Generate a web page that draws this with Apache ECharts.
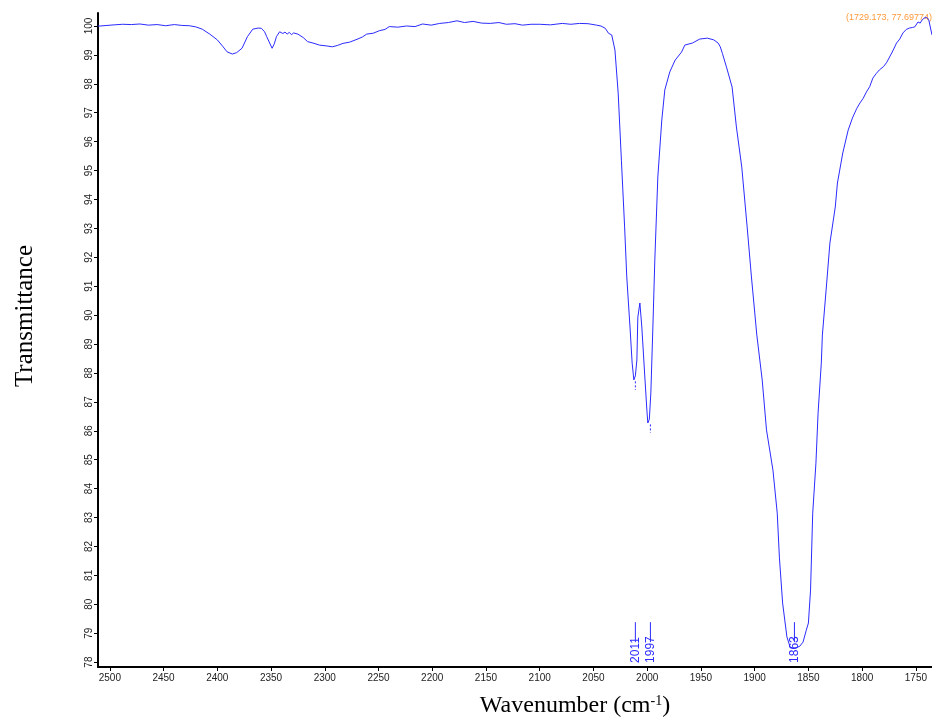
<!DOCTYPE html>
<html lang="en">
<head>
    <meta charset="UTF-8">
    <title>IR spectrum</title>
    <style>
        html, body { margin: 0; padding: 0; background: #fff; }
        #main { width: 932px; height: 722px; }
    </style>
</head>
<body>
<div id="main"></div>
<script src="https://cdn.jsdelivr.net/npm/echarts@6/dist/echarts.min.js"></script>
<script>
    // spectrum (wavenumber in cm-1, transmittance)
    var wavenumber = [
        2511, 2509, 2496, 2488, 2480, 2472, 2464, 2456, 2448, 2440, 2433, 2426, 2420, 2414,
        2407, 2400, 2395, 2391, 2386, 2382, 2377, 2372, 2367, 2362, 2359, 2356, 2354, 2349,
        2347, 2345, 2342, 2339, 2337, 2335, 2333, 2331, 2329, 2325, 2320, 2316, 2310, 2305,
        2298, 2293, 2288, 2283, 2277, 2270, 2265, 2261, 2255, 2249, 2244, 2240, 2232, 2224,
        2216, 2209, 2201, 2193, 2185, 2177, 2170, 2162, 2154, 2146, 2138, 2131, 2123, 2116,
        2108, 2100, 2090, 2079, 2071, 2063, 2055, 2047, 2043, 2039, 2036, 2033, 2030, 2027,
        2024, 2021, 2019, 2016, 2014, 2012.4, 2011, 2009.6, 2008.7, 2006.8, 2005, 2002.2,
        2000.3, 1999.4, 1998, 1996.6, 1994.7, 1992.9, 1990.1, 1986.4, 1983.6, 1979, 1974,
        1968, 1965, 1958, 1951, 1944, 1938, 1934, 1932, 1930, 1926, 1921, 1917, 1912, 1907,
        1903, 1898, 1893, 1889, 1883, 1879, 1877, 1874, 1870, 1867, 1864, 1861, 1858, 1855,
        1852, 1850, 1848, 1846, 1843, 1841, 1838, 1837, 1833, 1830, 1825, 1823, 1818, 1813,
        1809, 1805, 1802, 1799, 1796, 1793, 1790, 1787, 1784, 1780, 1777, 1772, 1768, 1765,
        1762, 1759, 1756, 1753, 1751, 1748, 1746, 1744, 1742, 1740, 1738, 1735
    ];
    var transmittance = [
        100.00, 100.00, 100.04, 100.06, 100.05, 100.07, 100.03, 100.05, 100.01, 100.05, 100.02, 100.01, 99.97, 99.89,
        99.72, 99.52, 99.30, 99.11, 99.03, 99.08, 99.23, 99.63, 99.89, 99.93, 99.92, 99.80, 99.63, 99.23,
        99.38, 99.63, 99.80, 99.74, 99.79, 99.72, 99.78, 99.70, 99.76, 99.72, 99.60, 99.46, 99.40, 99.34,
        99.31, 99.28, 99.33, 99.40, 99.44, 99.54, 99.62, 99.72, 99.75, 99.84, 99.88, 99.98, 99.96, 100.00,
        99.98, 100.07, 100.03, 100.09, 100.12, 100.18, 100.12, 100.16, 100.10, 100.09, 100.12, 100.06, 100.08, 100.03,
        100.06, 100.06, 100.04, 100.09, 100.06, 100.09, 100.08, 100.03, 100.00, 99.92, 99.75, 99.69, 99.17, 97.68,
        95.36, 93.05, 91.32, 89.59, 88.34, 87.76, 87.90, 88.45, 89.93, 90.42, 89.59, 87.86,
        86.72, 86.27, 86.40, 87.31, 89.59, 91.91, 94.78, 96.75, 97.79, 98.41, 98.82,
        99.10, 99.34, 99.41, 99.55, 99.58, 99.52, 99.41, 99.28, 99.05, 98.55, 97.89, 96.51, 95.12, 93.05,
        91.32, 89.31, 87.76, 86.03, 84.64, 83.15, 81.63, 80.04, 78.87, 78.52, 78.48, 78.50, 78.55, 78.69,
        79.10, 79.35, 80.49, 83.15, 84.88, 86.61, 88.34, 89.31, 91.11, 92.49, 93.74, 94.57, 95.61, 96.40,
        96.82, 97.15, 97.34, 97.50, 97.72, 97.90, 98.20, 98.35, 98.48, 98.60, 98.75, 99.10, 99.41, 99.55,
        99.76, 99.88, 99.93, 99.95, 99.97, 100.14, 100.10, 100.22, 100.28, 100.30, 100.21, 99.69
    ];

    // tick labels
    var xTicks = [2500, 2450, 2400, 2350, 2300, 2250, 2200, 2150, 2100, 2050, 2000, 1950, 1900, 1850, 1800, 1750];
    var yTicks = [78, 79, 80, 81, 82, 83, 84, 85, 86, 87, 88, 89, 90, 91, 92, 93, 94, 95, 96, 97, 98, 99, 100];

    // picked peaks
    var peakWn = [2011, 1997, 1863];
    var peakMinT = [87.76, 86.27, null];

    var spectrum = wavenumber.map(function (w, i) { return [w, transmittance[i]]; });
    var peaks = peakWn.map(function (w, i) { return [w, peakMinT[i]]; });

    var chart = echarts.init(document.getElementById('main'));
    var blue = '#2b2bff';

    var option = {
        animation: false,
        grid: { left: 98, right: 0, top: 13, bottom: 55 },
        xAxis: {
            type: 'value',
            inverse: true,
            min: 1735,
            max: 2511,
            axisLine: { show: true, lineStyle: { color: '#000', width: 2 } },
            axisTick: { show: true, length: 4, customValues: xTicks, lineStyle: { color: '#000' } },
            axisLabel: {
                customValues: xTicks,
                formatter: function (v) { return String(v); },
                color: '#222', fontSize: 10, fontFamily: 'Liberation Sans', margin: 6
            },
            splitLine: { show: false }
        },
        yAxis: {
            type: 'value',
            min: 77.83,
            max: 100.45,
            axisLine: { show: true, lineStyle: { color: '#000', width: 2 } },
            axisTick: { show: true, length: 4, customValues: yTicks, lineStyle: { color: '#000' } },
            axisLabel: {
                customValues: yTicks,
                formatter: function (v) { return String(v); },
                rotate: 90, color: '#222', fontSize: 10, fontFamily: 'Liberation Sans', margin: 4
            },
            splitLine: { show: false }
        },
        series: [
            {
                type: 'line',
                data: spectrum,
                showSymbol: false,
                lineStyle: { color: blue, width: 1 },
                z: 2
            },
            {
                // peak pick marks: short stem plus vertical label near the x axis
                type: 'custom',
                data: peaks,
                z: 3,
                renderItem: function (params, api) {
                    var w = api.value(0);
                    var top = api.coord([w, 79.38]);
                    var mid = api.coord([w, 78.69]);
                    var bot = api.coord([w, 77.97]);
                    var children = [
                        {
                            type: 'line',
                            shape: { x1: top[0], y1: top[1], x2: mid[0], y2: mid[1] },
                            style: { stroke: blue, lineWidth: 1 }
                        },
                        {
                            type: 'text',
                            x: bot[0],
                            y: bot[1],
                            rotation: Math.PI / 2,
                            style: {
                                text: String(peakWn[params.dataIndex]),
                                fill: blue,
                                font: '12px "Liberation Sans"',
                                align: 'left',
                                verticalAlign: 'middle'
                            }
                        }
                    ];
                    var tMin = peakMinT[params.dataIndex];
                    if (tMin != null) {
                        var s1 = api.coord([w, tMin - 0.05]);
                        var s2 = api.coord([w, tMin - 0.35]);
                        children.push({
                            type: 'line',
                            shape: { x1: s1[0], y1: s1[1], x2: s2[0], y2: s2[1] },
                            style: { stroke: blue, lineWidth: 1, lineDash: [2, 2] }
                        });
                    }
                    return { type: 'group', children: children };
                }
            }
        ],
        graphic: [
            {
                type: 'text',
                x: 25,
                y: 316,
                rotation: Math.PI / 2,
                style: {
                    text: 'Transmittance',
                    font: '25px "Liberation Serif"',
                    fill: '#000',
                    align: 'center',
                    verticalAlign: 'middle'
                }
            },
            {
                type: 'text',
                x: 575,
                y: 706,
                style: {
                    text: '{a|Wavenumber (cm}{s|-1}{a|)}',
                    align: 'center',
                    verticalAlign: 'middle',
                    rich: {
                        a: { font: '24px "Liberation Serif"', fill: '#000' },
                        s: { font: '14px "Liberation Serif"', fill: '#000', verticalAlign: 'top', padding: [0, 0, 8, 0] }
                    }
                }
            },
            {
                type: 'text',
                x: 846,
                y: 18,
                style: {
                    text: '(1729.173, 77.69774)',
                    font: '9px "Liberation Sans"',
                    fill: '#ff9a3c',
                    align: 'left',
                    verticalAlign: 'middle'
                }
            }
        ]
    };
    option && chart.setOption(option);
</script>
</body>
</html>
